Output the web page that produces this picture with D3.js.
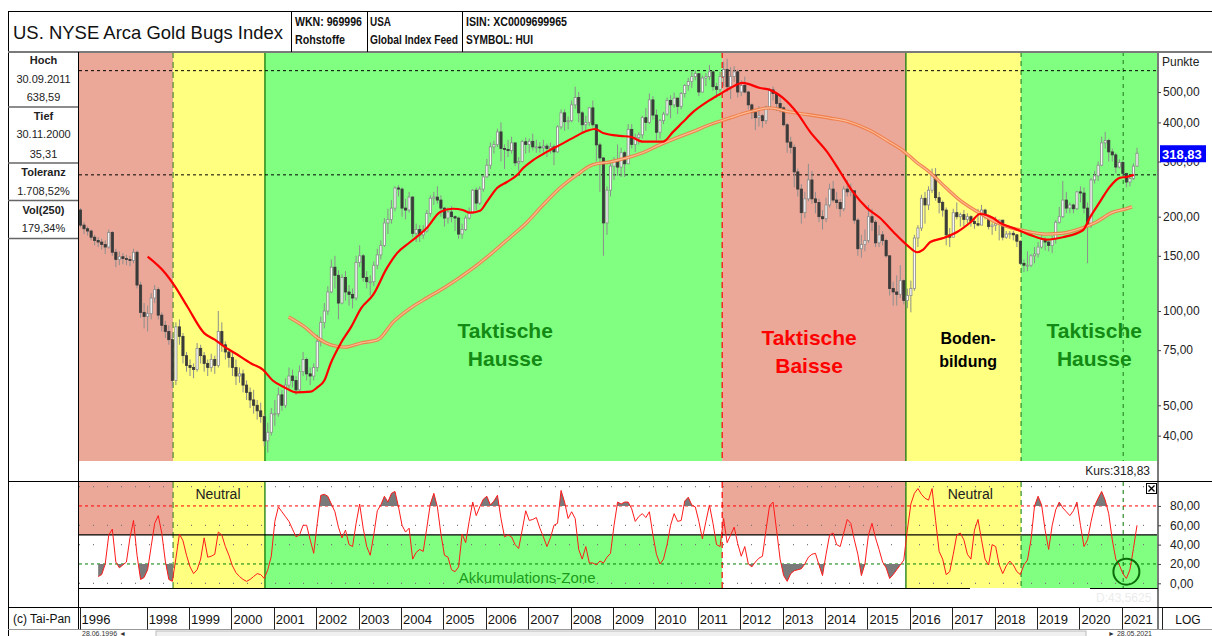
<!DOCTYPE html>
<html lang="de">
<head>
<meta charset="UTF-8">
<title>US. NYSE Arca Gold Bugs Index</title>
<script src="https://d3js.org/d3.v7.min.js"></script>
<style>
  body { margin: 0; background: #fff; }
  svg { display: block; font-family: "Liberation Sans", Arial, sans-serif; }
  .narrow { font-family: "Liberation Sans Narrow", "Arial Narrow", "Liberation Sans", Arial, sans-serif; font-weight: bold; font-size: 12px; }
  .info { font-size: 11px; fill: #222; }
  .info-b { font-size: 11px; font-weight: bold; fill: #222; }
  .tick text { font-size: 12px; fill: #222; }
</style>
</head>
<body>
<div id="chart"></div>
<script>
// monthly candles, index 0 = Jun 1996, last = May 2021
const firstOpen = 210;
const closeVals = [
  188, 183, 180, 172, 168, 166, 163,                              // 1996
  160, 178, 154, 146, 149, 147, 146, 145, 154, 121, 99, 96,      // 1997
  98, 110, 117, 97, 90, 86, 81, 60, 89, 83, 72, 67,              // 1998
  66, 65, 76, 72, 68, 66, 70, 67, 86, 78, 74, 71,                // 1999
  66, 62, 63, 58, 55, 52, 50, 48, 46, 38.5, 41, 47,              // 2000
  47, 54, 50, 58, 62, 60, 56, 64, 70, 63, 62, 66,                // 2001
  80, 92, 100, 115, 138, 130, 106, 128, 115, 113, 110, 143,      // 2002
  150, 128, 124, 124, 140, 151, 162, 191, 196, 213, 247, 245,    // 2003
  213, 210, 231, 177, 182, 175, 180, 205, 229, 231, 226, 213,    // 2004
  198, 207, 200, 198, 176, 182, 198, 205, 243, 221, 245, 268,    // 2005
  292, 334, 340, 373, 330, 328, 325, 344, 297, 300, 347, 340,    // 2006
  348, 334, 334, 332, 336, 330, 334, 322, 387, 429, 402, 405,    // 2007
  455, 480, 429, 393, 400, 445, 393, 339, 308, 191, 243, 290,    // 2008
  300, 288, 320, 295, 380, 340, 358, 365, 414, 400, 472, 422,    // 2009
  372, 405, 425, 470, 455, 478, 450, 495, 525, 540, 560, 572,    // 2010
  500, 554, 560, 580, 520, 510, 560, 590, 520, 560, 580, 500,    // 2011
  525, 500, 455, 430, 414, 420, 405, 448, 508, 495, 460, 445,    // 2012
  393, 346, 333, 278, 245, 206, 228, 262, 228, 222, 200, 197,    // 2013
  218, 245, 226, 222, 212, 245, 240, 242, 195, 158, 163, 168,    // 2014
  200, 192, 165, 175, 168, 150, 118, 115, 113, 125, 108, 112,    // 2015
  118, 171, 184, 229, 218, 243, 272, 230, 222, 210, 175, 172,    // 2016
  206, 200, 203, 196, 200, 193, 190, 188, 210, 200, 186, 188,    // 2017
  190, 195, 172, 176, 177, 175, 167, 142, 140, 140, 150, 152,    // 2018
  160, 169, 166, 162, 170, 192, 200, 226, 213, 218, 212, 240,    // 2019
  238, 213, 188, 262, 270, 292, 344, 350, 322, 315, 288, 298,    // 2020
  275, 258, 265, 290, 318.83                                      // 2021
];
const highVals = [
  213, 192, 186, 182, 175, 172, 170,
  168, 182, 180, 158, 155, 153, 151, 150, 158, 156, 124, 106,
  104, 114, 121, 119, 99, 93, 90, 84, 92, 94, 85, 74,
  70, 68, 79, 78, 74, 70, 73, 72, 100, 92, 80, 76,
  74, 70, 66, 65, 60, 57, 56, 52, 51, 47, 44, 49,
  52, 57, 56, 61, 66, 65, 62, 67, 74, 71, 66, 68,
  84, 96, 106, 120, 146, 150, 135, 131, 134, 121, 118, 150,
  162, 152, 134, 130, 144, 158, 168, 198, 212, 226, 250, 252,
  248, 228, 240, 233, 190, 188, 188, 210, 234, 240, 250, 234,
  215, 214, 216, 202, 200, 190, 202, 214, 245, 248, 250, 272,
  306, 345, 350, 382, 400, 340, 352, 360, 345, 310, 352, 358,
  355, 368, 352, 346, 352, 342, 345, 340, 392, 440, 440, 418,
  470, 520, 500, 435, 420, 448, 470, 395, 345, 310, 250, 300,
  310, 340, 332, 325, 395, 395, 368, 372, 420, 445, 495, 485,
  440, 410, 432, 480, 488, 498, 480, 500, 530, 555, 580, 585,
  575, 565, 575, 610, 585, 535, 580, 625, 638.59, 600, 605, 590,
  545, 560, 505, 460, 438, 450, 425, 452, 515, 520, 498, 480,
  450, 398, 360, 340, 285, 254, 240, 295, 280, 240, 228, 210,
  230, 255, 260, 240, 228, 250, 262, 255, 240, 198, 175, 182,
  218, 212, 195, 188, 180, 170, 150, 124, 130, 140, 126, 118,
  125, 175, 188, 235, 240, 250, 285, 286, 240, 225, 214, 184,
  212, 222, 206, 210, 205, 202, 198, 212, 218, 212, 203, 192,
  200, 196, 188, 180, 180, 180, 176, 168, 146, 155, 152, 160,
  166, 176, 172, 168, 174, 195, 215, 260, 240, 222, 220, 242,
  250, 248, 222, 266, 280, 300, 360, 373, 355, 330, 320, 305,
  302, 276, 270, 296, 332
];
const lowVals = [
  185, 176, 174, 168, 162, 160, 157,
  152, 158, 150, 138, 140, 141, 140, 139, 142, 118, 95, 88,
  86, 94, 106, 94, 86, 82, 78, 57, 58, 78, 68, 64,
  62, 61, 64, 68, 64, 62, 64, 63, 66, 74, 70, 66,
  62, 58, 59, 55, 52, 49, 47, 45, 44, 37, 35.31, 40,
  43, 46, 48, 49, 56, 57, 54, 55, 62, 60, 58, 60,
  64, 77, 88, 97, 114, 118, 94, 105, 108, 104, 102, 108,
  138, 124, 118, 112, 120, 136, 146, 160, 176, 190, 208, 232,
  200, 196, 206, 172, 166, 166, 170, 178, 200, 218, 220, 200,
  186, 190, 192, 180, 170, 170, 180, 196, 204, 210, 218, 240,
  266, 284, 318, 334, 300, 284, 310, 318, 290, 280, 298, 318,
  320, 325, 320, 320, 318, 310, 318, 292, 320, 380, 376, 380,
  400, 442, 400, 370, 378, 390, 385, 300, 240, 150, 175, 232,
  262, 270, 268, 268, 295, 330, 322, 340, 355, 376, 395, 408,
  350, 355, 395, 420, 412, 445, 425, 440, 480, 505, 515, 545,
  485, 498, 522, 545, 505, 480, 500, 520, 500, 475, 540, 480,
  485, 495, 440, 410, 378, 388, 385, 395, 440, 470, 435, 430,
  388, 320, 318, 248, 232, 190, 198, 224, 220, 205, 192, 182,
  192, 214, 222, 212, 200, 208, 232, 232, 190, 150, 148, 155,
  165, 180, 160, 160, 162, 148, 112, 104, 104, 110, 105, 102,
  99, 116, 160, 180, 190, 210, 238, 225, 205, 200, 162, 160,
  172, 196, 186, 186, 190, 186, 183, 186, 196, 196, 182, 175,
  180, 168, 168, 170, 170, 168, 160, 140, 133, 134, 138, 142,
  148, 158, 156, 155, 153, 164, 190, 198, 205, 205, 205, 210,
  222, 205, 142, 184, 255, 260, 290, 330, 300, 300, 275, 285,
  268, 248, 250, 262, 288
];

// moving averages (month index, value)
const maRedIdx = [19, 24, 26.5, 30.3, 35, 38, 40.7, 44, 48.3, 51.6, 54.4, 57.8, 61, 65.2, 67, 69, 70.8, 73.7, 76.6, 79.4,
  82.8, 86.7, 89.6, 93.3, 98, 101.8, 105.4, 108.2, 110.2, 113.1, 115, 117.9, 120.7, 123.6, 125.3, 128.1, 132, 135.7, 139.4, 143.4,
  145.6, 147.9, 152.7, 155.6, 159.2, 162, 164.8, 167.7, 170.5, 173.4, 177.3, 181, 183.9, 187.4, 192.3, 195.1, 198.8, 202.8, 206.5, 211.3,
  215, 218.6, 222.6, 226.3, 230, 234, 236.8, 238.5, 240.5, 244.2, 248.2, 251.9, 254.6, 258.3, 260.3, 264, 268.7, 273.5, 278, 283.7,
  285.6, 288.5, 291.3, 294.1, 296.1, 298.1];
const maRedVal = [149, 132, 121, 103, 85, 81, 77, 73, 68, 65, 60, 57, 55, 55.3, 57, 60, 68, 79, 89, 102,
  112.5, 137, 153, 166, 184, 207, 212, 210, 206, 209, 223, 247, 258, 272, 286, 303, 322, 339, 357, 376,
  381, 370, 362, 360, 347, 347, 347, 373, 401, 432, 465, 493, 515, 535, 515, 508, 479, 429, 373, 322,
  278, 240, 213, 198, 179, 162, 154, 157, 166, 171, 179, 192, 204, 198, 191, 184, 175, 169, 172, 181,
  198, 223, 249, 266, 268, 272];
const maSlowIdx = [58.9, 63.4, 67.1, 70.8, 74.8, 79.3, 84.2, 88.4, 93.3, 98, 102.6, 107.4, 112.2, 116.7, 121.6, 126.4, 130.9, 135.7,
  140.5, 145, 149.8, 154.6, 159.1, 163.9, 168.7, 173.2, 178, 183.7, 189.3, 194.9, 200.6, 206.3, 211.9, 217.6, 223.2, 228.8,
  232.5, 236.5, 240.2, 245, 249.5, 254.3, 259.1, 263.6, 268.4, 273.2, 277.7, 283.4, 287.4, 291.9, 295.9, 297.6];
const maSlowVal = [95.7, 89, 82, 78, 76.7, 79, 81, 92, 102, 110, 118, 128, 140, 154, 172, 192, 218, 247,
  272, 293, 299, 308, 320, 339, 357, 373, 393, 413, 432, 445, 432, 423, 413, 401, 378, 347,
  327, 299, 278, 247, 223, 206, 192, 184, 179, 176, 177, 184, 192, 206, 212, 215];

// oscillator (0..100), monthly from index 5
const oscStart = 5;
const oscVals = [
  7, 9, 20, 50, 56, 22, 16, 19, 22, 47,
  65, 29, 4, 6, 14, 38, 62, 70, 52, 23,
  4, 2, 26, 51, 44, 29, 17, 10, 14, 25,
  47, 27, 28, 30, 53, 50, 38, 29, 18, 11,
  7, 4, 2, 4, 7, 10, 9, 5, 14, 28,
  64, 79, 74, 69, 64, 56, 48, 50, 60, 60,
  45, 31, 62, 91, 92, 90, 82, 74, 58, 47,
  55, 40, 38, 62, 82, 57, 38, 29, 50, 75,
  81, 90, 84, 93, 95, 79, 60, 53, 57, 25,
  32, 35, 33, 57, 82, 93, 79, 51, 29, 27,
  14, 12, 17, 51, 42, 64, 84, 70, 79, 87,
  90, 81, 85, 91, 67, 48, 50, 48, 40, 36,
  55, 75, 65, 66, 68, 57, 48, 38, 47, 60,
  62, 96, 84, 67, 74, 67, 35, 25, 38, 21,
  21, 19, 23, 21, 27, 31, 60, 84, 82, 84,
  84, 77, 64, 69, 72, 68, 74, 50, 30, 20,
  25, 40, 60, 72, 64, 65, 85, 89, 81, 79,
  64, 46, 64, 81, 62, 40, 38, 67, 42, 50,
  58, 41, 28, 38, 20, 17, 22, 26, 28, 55,
  80, 84, 55, 25, 8, 2, 10, 13, 14, 15,
  20, 27, 30, 31, 19, 8, 30, 50, 52, 40,
  38, 52, 66, 62, 45, 30, 8, 20, 50, 62,
  47, 35, 22, 16, 5, 9, 14, 19, 24, 55,
  82, 93, 98, 92, 88, 86, 98, 65, 33, 25,
  9, 12, 30, 50, 52, 45, 30, 25, 55, 66,
  45, 25, 19, 40, 38, 19, 10, 18, 23, 19,
  12, 9, 19, 24, 45, 80, 90, 81, 55, 35,
  60, 76, 84, 78, 74, 70, 75, 84, 60, 38,
  45, 64, 80, 88, 95, 86, 72, 45, 25, 19,
  10, 5, 14, 36, 60
];

// market phases (boundaries as month index)
const phaseBounds = [-0.5, 26.2, 52.2, 181.6, 233.6, 266.2, 306];
const phaseKinds = ["baisse", "neutral", "hausse", "baisse", "neutral", "hausse"];
const markerIdx = 295.1;
const refLevels = [585, 272];
const mainTicks = [40, 50, 75, 100, 150, 200, 300, 400, 500];
const oscTicks = [0, 20, 40, 60, 80];
const oscGrid = [0, 40, 60, 100];
const yearLabels = ["1996", "1998", "1999", "2000", "2001", "2002", "2003", "2004", "2005", "2006", "2007", "2008", "2009",
  "2010", "2011", "2012", "2013", "2014", "2015", "2016", "2017", "2018", "2019", "2020", "2021"];
const lastClose = 318.83;

const W = 1212, H = 636;
const plotL = 79, plotR = 1158, mainTop = 52, mainBot = 461, oscTop = 482, oscBot = 588;
const bandColor = { baisse: "#eba898", neutral: "#ffff80", hausse: "#80ff80" };

const de = d3.formatLocale({ decimal: ",", thousands: ".", grouping: [3], currency: ["", ""] });
const fmt2 = de.format(",.2f");

const x = d3.scaleLinear().domain([0, 299]).range([80.5, 1137]);
const y = d3.scaleLog().domain([33.2, 671]).range([mainBot, mainTop]);
const yo = d3.scaleLinear().domain([0, 100]).range([583.3, 486.6]);
const bx = v => Math.max(plotL, Math.min(plotR, x(v)));

const svg = d3.select("#chart").append("svg").attr("width", W).attr("height", H);
svg.append("rect").attr("width", W).attr("height", H).attr("fill", "#fff");

const phases = phaseKinds.map((k, i) => ({ kind: k, x0: bx(phaseBounds[i]), x1: bx(phaseBounds[i + 1]) }));

const defs = svg.append("defs");
defs.append("clipPath").attr("id", "clipMain").append("rect")
  .attr("x", plotL).attr("y", mainTop).attr("width", plotR - plotL).attr("height", mainBot - mainTop);
// overbought shading only in hausse phases, oversold shading only in baisse phases
defs.append("clipPath").attr("id", "clipHi").selectAll("rect")
  .data(phases.filter(p => p.kind === "hausse")).join("rect")
  .attr("x", d => d.x0).attr("width", d => d.x1 - d.x0).attr("y", oscTop).attr("height", yo(80) - oscTop);
defs.append("clipPath").attr("id", "clipLo").selectAll("rect")
  .data(phases.filter(p => p.kind === "baisse")).join("rect")
  .attr("x", d => d.x0).attr("width", d => d.x1 - d.x0).attr("y", yo(20)).attr("height", oscBot - yo(20));

// ---------- phase bands ----------
svg.append("g").selectAll("rect").data(phases).join("rect")
  .attr("x", d => d.x0).attr("y", mainTop).attr("width", d => d.x1 - d.x0).attr("height", mainBot - mainTop)
  .attr("fill", d => bandColor[d.kind]);

// lower panel: baisse shades upper half, hausse lower half, neutral full
svg.append("g").selectAll("rect").data(phases).join("rect")
  .attr("x", d => d.x0).attr("width", d => d.x1 - d.x0)
  .attr("y", d => d.kind === "hausse" ? yo(50) : oscTop)
  .attr("height", d => d.kind === "neutral" ? oscBot - oscTop : d.kind === "hausse" ? oscBot - yo(50) : yo(50) - oscTop)
  .attr("fill", d => bandColor[d.kind]);

// ---------- phase boundary lines ----------
const bStyles = [
  { c: "#4f8a2f", dash: "6,4" },
  { c: "#007000", dash: null },
  { c: "#ff0000", dash: "6,4" },
  { c: "#007000", dash: null },
  { c: "#2e8b2e", dash: "5,4" }
];
const bLines = bStyles.map((s, i) => ({ ...s, xv: x(phaseBounds[i + 1]) }));
bLines.push({ c: "#2e8b2e", dash: "4,4", xv: x(markerIdx) });
[[mainTop, mainBot], [oscTop, oscBot]].forEach(([t, b]) => {
  svg.append("g").selectAll("line").data(bLines).join("line")
    .attr("x1", d => d.xv).attr("x2", d => d.xv).attr("y1", t).attr("y2", b)
    .attr("stroke", d => d.c).attr("stroke-width", 1.2)
    .attr("stroke-dasharray", d => d.dash);
});

// reference levels (black dashed)
svg.append("g").selectAll("line").data(refLevels).join("line")
  .attr("x1", plotL).attr("x2", plotR).attr("y1", d => y(d)).attr("y2", d => y(d))
  .attr("stroke", "#000").attr("stroke-dasharray", "3,3").attr("stroke-width", 1);

// ---------- candles ----------
const candles = closeVals.map((c, i) => {
  const o = i === 0 ? firstOpen : closeVals[i - 1];
  return { i, o, c, h: Math.max(highVals[i], o, c), l: Math.min(lowVals[i], o, c) };
});
const cg = svg.append("g").attr("clip-path", "url(#clipMain)");
cg.selectAll("line").data(candles).join("line")
  .attr("x1", d => x(d.i)).attr("x2", d => x(d.i))
  .attr("y1", d => y(d.h)).attr("y2", d => y(d.l))
  .attr("stroke", "#8e8e8e").attr("stroke-width", 1);
cg.selectAll("rect").data(candles).join("rect")
  .attr("x", d => x(d.i) - 1.1).attr("width", 2.2)
  .attr("y", d => y(Math.max(d.o, d.c)))
  .attr("height", d => Math.max(1, Math.abs(y(d.o) - y(d.c))))
  .attr("fill", d => d.c >= d.o ? "#fafafa" : "#3a3a3a")
  .attr("stroke", d => d.c >= d.o ? "#8a8a8a" : "#3a3a3a")
  .attr("stroke-width", 0.8);

// ---------- moving averages ----------
const slow = maSlowIdx.map((v, k) => [v, maSlowVal[k]]);
const fast = maRedIdx.map((v, k) => [v, maRedVal[k]]);
const maLine = d3.line().x(d => x(d[0])).y(d => y(d[1])).curve(d3.curveMonotoneX);
const mg = svg.append("g").attr("clip-path", "url(#clipMain)");
mg.append("path").attr("d", maLine(slow)).attr("fill", "none").attr("stroke", "#f07a45").attr("stroke-width", 3.4).attr("opacity", 0.9);
mg.append("path").attr("d", maLine(slow)).attr("fill", "none").attr("stroke", "#ffbb95").attr("stroke-width", 1.2);
mg.append("path").attr("d", maLine(fast)).attr("fill", "none").attr("stroke", "#ff0000").attr("stroke-width", 2.2);

// ---------- phase captions ----------
const captions = [
  { i: 120.2, lines: ["Taktische", "Hausse"], color: "#138a13", size: 21, y0: 338, dy: 28 },
  { i: 206.2, lines: ["Taktische", "Baisse"], color: "#ff0000", size: 21, y0: 345, dy: 28 },
  { i: 251.2, lines: ["Boden-", "bildung"], color: "#000", size: 16, y0: 344, dy: 23 },
  { i: 286.9, lines: ["Taktische", "Hausse"], color: "#138a13", size: 21, y0: 338, dy: 28 }
];
captions.forEach(cp => {
  svg.append("g").selectAll("text").data(cp.lines).join("text")
    .attr("x", x(cp.i)).attr("y", (d, k) => cp.y0 + k * cp.dy)
    .attr("text-anchor", "middle").attr("font-weight", "bold")
    .attr("font-size", cp.size).attr("fill", cp.color).text(d => d);
});

// ---------- oscillator panel ----------
svg.append("g").selectAll("line").data(oscGrid).join("line")
  .attr("x1", plotL).attr("x2", plotR).attr("y1", d => yo(d)).attr("y2", d => yo(d))
  .attr("stroke", "#777").attr("stroke-dasharray", "1,13").attr("stroke-width", 1.2);
svg.append("line").attr("x1", plotL).attr("x2", plotR).attr("y1", yo(80)).attr("y2", yo(80))
  .attr("stroke", "#ff0000").attr("stroke-dasharray", "3,3");
svg.append("line").attr("x1", plotL).attr("x2", plotR).attr("y1", yo(20)).attr("y2", yo(20))
  .attr("stroke", "#008000").attr("stroke-dasharray", "3,3");
svg.append("line").attr("x1", plotL).attr("x2", plotR).attr("y1", yo(50)).attr("y2", yo(50))
  .attr("stroke", "#000").attr("stroke-width", 1.2);

const osc = oscVals.map((v, k) => ({ i: oscStart + k, v }));
svg.append("path").attr("clip-path", "url(#clipHi)")
  .attr("d", d3.area().x(d => x(d.i)).y0(yo(80)).y1(d => yo(d.v))(osc)).attr("fill", "#7a7a7a");
svg.append("path").attr("clip-path", "url(#clipLo)")
  .attr("d", d3.area().x(d => x(d.i)).y0(yo(20)).y1(d => yo(d.v))(osc)).attr("fill", "#7a7a7a");
svg.append("path").attr("d", d3.line().x(d => x(d.i)).y(d => yo(d.v))(osc))
  .attr("fill", "none").attr("stroke", "#ff1a1a").attr("stroke-width", 1);

svg.append("circle").attr("cx", x(296)).attr("cy", yo(12)).attr("r", 13)
  .attr("fill", "none").attr("stroke", "#0b6e0b").attr("stroke-width", 2);

const oscLabels = [
  { i: 38.9, t: "Neutral", y: 499, c: "#222", s: 14 },
  { i: 251.8, t: "Neutral", y: 499, c: "#222", s: 14 },
  { i: 126.4, t: "Akkumulations-Zone", y: 583, c: "#1c9a1c", s: 15 }
];
svg.append("g").selectAll("text").data(oscLabels).join("text")
  .attr("x", d => x(d.i)).attr("y", d => d.y).attr("text-anchor", "middle")
  .attr("font-size", d => d.s).attr("fill", d => d.c).text(d => d.t);

// ---------- frame ----------
const frame = svg.append("g").attr("stroke", "#000").attr("fill", "none");
frame.append("line").attr("x1", 8).attr("x2", W).attr("y1", 11.5).attr("y2", 11.5);
frame.append("line").attr("x1", 8.5).attr("x2", 8.5).attr("y1", 11).attr("y2", H);
frame.append("line").attr("x1", 8).attr("x2", W).attr("y1", 52).attr("y2", 52).attr("stroke", "#7a7a7a").attr("stroke-width", 2);
frame.append("line").attr("x1", 78.5).attr("x2", 78.5).attr("y1", 52).attr("y2", 630);
frame.append("line").attr("x1", plotR).attr("x2", plotR).attr("y1", 52).attr("y2", 630).attr("stroke", "#7a7a7a").attr("stroke-width", 2);
frame.append("line").attr("x1", 8).attr("x2", W).attr("y1", 481.5).attr("y2", 481.5);
frame.append("line").attr("x1", plotL).attr("x2", 970).attr("y1", oscBot + 0.5).attr("y2", oscBot + 0.5);
frame.append("line").attr("x1", 1090).attr("x2", plotR).attr("y1", oscBot + 0.5).attr("y2", oscBot + 0.5);
frame.append("line").attr("x1", 8).attr("x2", W).attr("y1", 607.5).attr("y2", 607.5);
frame.append("line").attr("x1", 8).attr("x2", W).attr("y1", 629.5).attr("y2", 629.5).attr("stroke", "#999");
[291.5, 367.5, 462.5].forEach(v => frame.append("line").attr("x1", v).attr("x2", v).attr("y1", 11).attr("y2", 52));
[107, 163, 200.5, 238.5].forEach(v => frame.append("line").attr("x1", 8).attr("x2", 78).attr("y1", v).attr("y2", v).attr("stroke", "#666").attr("stroke-width", 1.5));

// header
svg.append("text").attr("x", 13).attr("y", 39).attr("font-size", 19).attr("fill", "#111")
  .attr("textLength", 270).attr("lengthAdjust", "spacingAndGlyphs").text("US. NYSE Arca Gold Bugs Index");
const cells = [
  { x: 295, y: 26, t: "WKN: 969996", w: 67 }, { x: 295, y: 44, t: "Rohstoffe", w: 50 },
  { x: 370, y: 26, t: "USA", w: 21 }, { x: 370, y: 44, t: "Global Index Feed", w: 88 },
  { x: 466, y: 26, t: "ISIN: XC0009699965", w: 101 }, { x: 466, y: 44, t: "SYMBOL: HUI", w: 67 }
];
svg.append("g").selectAll("text").data(cells).join("text").attr("class", "narrow")
  .attr("x", d => d.x).attr("y", d => d.y).attr("textLength", d => d.w).attr("lengthAdjust", "spacingAndGlyphs")
  .attr("fill", "#111").text(d => d.t);

// left info panel
const info = [
  { t: "Hoch", y: 64, b: true }, { t: "30.09.2011", y: 82.5 }, { t: "638,59", y: 101 },
  { t: "Tief", y: 120, b: true }, { t: "30.11.2000", y: 138 }, { t: "35,31", y: 157.5 },
  { t: "Toleranz", y: 176, b: true }, { t: "1.708,52%", y: 195 },
  { t: "Vol(250)", y: 213.5, b: true }, { t: "179,34%", y: 231.5 }
];
svg.append("g").selectAll("text").data(info).join("text")
  .attr("class", d => d.b ? "info-b" : "info")
  .attr("x", 43.5).attr("y", d => d.y).attr("text-anchor", "middle").text(d => d.t);

// ---------- right axes ----------
const axMain = svg.append("g").attr("transform", `translate(${plotR},0)`)
  .call(d3.axisRight(y).tickValues(mainTicks).tickSize(3).tickPadding(2).tickFormat(fmt2));
axMain.select(".domain").remove();
axMain.selectAll(".tick line").attr("stroke", "#444");
svg.append("text").attr("x", 1162).attr("y", 66).attr("font-size", 12).attr("fill", "#222").text("Punkte");

const yl = y(lastClose);
svg.append("rect").attr("x", 1160).attr("y", yl - 8).attr("width", 46).attr("height", 17).attr("fill", "#0000ff");
svg.append("text").attr("x", 1162).attr("y", yl + 5.5).attr("font-size", 13).attr("font-weight", "bold")
  .attr("fill", "#fff").text(fmt2(lastClose));
svg.append("text").attr("x", 1150).attr("y", 475).attr("text-anchor", "end").attr("font-size", 12).attr("fill", "#222")
  .text("Kurs:" + fmt2(lastClose));

const axOsc = svg.append("g").attr("transform", `translate(${plotR},0)`)
  .call(d3.axisRight(yo).tickValues(oscTicks).tickSize(3).tickPadding(9).tickFormat(fmt2));
axOsc.select(".domain").remove();
axOsc.selectAll(".tick line").attr("stroke", "#444");

// close box
svg.append("rect").attr("x", 1146.5).attr("y", 483.5).attr("width", 10).attr("height", 10).attr("fill", "#fff").attr("stroke", "#000");
svg.append("path").attr("d", "M1148.5,485.5 L1154.5,491.5 M1154.5,485.5 L1148.5,491.5").attr("stroke", "#000").attr("stroke-width", 1.3);
svg.append("text").attr("x", 1096).attr("y", 602).attr("font-size", 12).attr("fill", "#ececec").text("D:43,5625");

// ---------- time axis row ----------
const years = yearLabels.map(t => ({ t, xv: t === "1996" ? x(0) : x(7 + 12 * (+t - 1997)) }));
const yr = svg.append("g");
yr.selectAll("line").data(years).join("line")
  .attr("x1", d => Math.round(d.xv) - 0.5).attr("x2", d => Math.round(d.xv) - 0.5)
  .attr("y1", 607.5).attr("y2", 629.5).attr("stroke", "#222");
yr.selectAll("text").data(years).join("text")
  .attr("x", d => d.xv + 1).attr("y", 624).attr("font-size", 13).attr("fill", "#111").text(d => d.t);
svg.append("line").attr("x1", 1162.5).attr("x2", 1162.5).attr("y1", 607.5).attr("y2", 629.5).attr("stroke", "#222");
svg.append("text").attr("x", 1188).attr("y", 624).attr("text-anchor", "middle").attr("font-size", 12).attr("fill", "#111").text("LOG");
svg.append("text").attr("x", 13).attr("y", 623).attr("font-size", 12).attr("fill", "#111").text("(c) Tai-Pan");

// scroll bar strip (only its top edge is inside the window)
svg.append("rect").attr("x", 156).attr("y", 631).attr("width", 930).attr("height", 8).attr("fill", "#f0f0f0").attr("stroke", "#bbb");
svg.append("text").attr("x", 82).attr("y", 636).attr("font-size", 7).attr("fill", "#333").text("28.06.1996 ◄");
svg.append("text").attr("x", 1152).attr("y", 636).attr("text-anchor", "end").attr("font-size", 7).attr("fill", "#333").text("► 28.05.2021");
</script>
</body>
</html>
